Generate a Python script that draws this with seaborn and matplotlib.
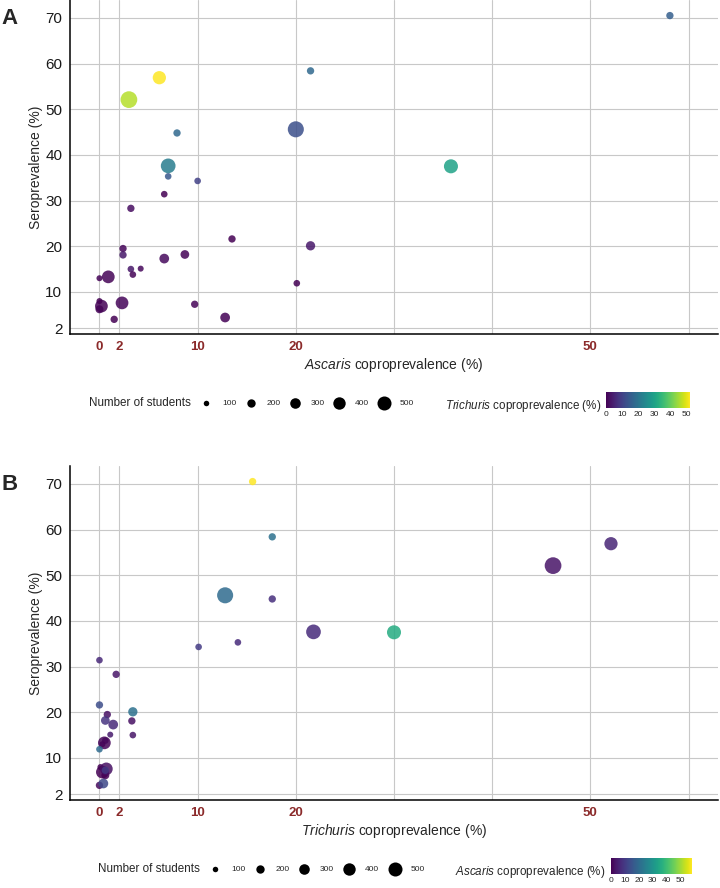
import numpy as np
import pandas as pd
import matplotlib
matplotlib.use("Agg")
import matplotlib.pyplot as plt
import seaborn as sns
from matplotlib.colors import Normalize
from matplotlib.cm import ScalarMappable

# one row per school
ascaris = [58.1, 21.5, 6.1, 3.0, 20.0, 7.9, 35.8, 7.0, 7.0, 10.0, 6.6, 3.2, 13.5, 21.5, 2.4, 2.4,
           6.6, 8.7, 3.2, 4.2, 3.4, 0.0, 0.9, 20.1, 0.0, 0.2, 0.0, 2.3, 9.7, 1.5, 12.8]
trichuris = [15.6, 17.6, 52.1, 46.2, 12.8, 17.6, 30.0, 21.8, 14.1, 10.1, 0.0, 1.7, 0.0, 3.4, 0.8, 3.3,
             1.4, 0.6, 3.4, 1.1, 0.6, 0.3, 0.5, 0.0, 0.1, 0.3, 0.6, 0.7, 0.6, 0.0, 0.4]
seroprev = [70.5, 58.4, 56.9, 52.1, 45.6, 44.8, 37.5, 37.6, 35.3, 34.3, 31.4, 28.3, 21.6, 20.1, 19.5, 18.1,
            17.3, 18.2, 15.0, 15.1, 13.8, 13.0, 13.3, 11.9, 8.0, 6.9, 6.2, 7.6, 7.3, 4.0, 4.4]
n_students = [160, 160, 450, 690, 640, 160, 500, 545, 135, 135, 135, 160, 160, 240, 160, 160,
              260, 215, 135, 115, 135, 115, 420, 135, 115, 420, 185, 420, 160, 160, 260]

legend_sizes = [100, 200, 300, 400, 500]
x_ticks = [0, 2, 10, 20, 30, 40, 50, 60]
x_ticklabels = ["0", "2", "10", "20", "", "", "50", ""]
y_ticks = [2, 10, 20, 30, 40, 50, 60, 70]
cbar_ticks = [0, 10, 20, 30, 40, 50]

W, H, DPI = 720, 888, 100
RED = "#8B2A2A"

sns.set_style("white")
plt.rcParams["font.family"] = ["Liberation Sans", "DejaVu Sans"]
plt.rcParams["mathtext.fontset"] = "custom"
plt.rcParams["mathtext.rm"] = "Liberation Sans"
plt.rcParams["mathtext.it"] = "Liberation Sans:italic"


def dot_area(n):
    # ggplot-like: diameter grows with sqrt(n); returned as scatter area in pt^2
    d_px = -1.4 + 0.69 * np.sqrt(n)
    return (d_px * 72 / DPI) ** 2


def px_box(left, top, right, bottom):
    return [left / W, 1 - bottom / H, (right - left) / W, (bottom - top) / H]


df = pd.DataFrame({"ascaris": ascaris, "trichuris": trichuris,
                   "sero": seroprev, "n": n_students})
size_map = {n: dot_area(n) for n in sorted(set(n_students))}

fig = plt.figure(figsize=(W / DPI, H / DPI), dpi=DPI)
ov = fig.add_axes([0, 0, 1, 1], zorder=5)
ov.set_xlim(0, W)
ov.set_ylim(H, 0)
ov.axis("off")
ov.patch.set_alpha(0)

panels = [
    dict(x="ascaris", hue="trichuris", top=0.5, tag="A", xname="Ascaris", cname="Trichuris",
         leg_left=89, dots=[206, 251, 295, 339, 384], cb=(606, 690), row=403),
    dict(x="trichuris", hue="ascaris", top=466.5, tag="B", xname="Trichuris", cname="Ascaris",
         leg_left=98, dots=[215, 260, 304, 349, 395], cb=(611, 692), row=869),
]

for p in panels:
    top = p["top"]
    ax = fig.add_axes(px_box(70, top, 718, top + 333))
    hmax = df[p["hue"]].max()
    sns.scatterplot(data=df, x=p["x"], y="sero", hue=p["hue"], size="n", sizes=size_map,
                    palette="viridis", hue_norm=(0, hmax), legend=False, alpha=0.85,
                    linewidth=0, ax=ax, zorder=3)
    ax.set_xlim(-3, 63)
    ax.set_ylim(0.9, 73.8)
    ax.set_xticks(x_ticks)
    ax.set_xticklabels(x_ticklabels, color=RED, fontweight="bold", fontsize=9.5)
    ax.set_yticks(y_ticks)
    ax.set_yticklabels([str(v) for v in y_ticks], fontsize=11, color="#1a1a1a")
    ax.grid(True, color="#c8c8c8", lw=0.8)
    ax.set_axisbelow(True)
    for s in ["top", "right"]:
        ax.spines[s].set_visible(False)
    for s in ["left", "bottom"]:
        ax.spines[s].set_color("black")
        ax.spines[s].set_linewidth(1.1)
    ax.tick_params(axis="both", length=3, width=0.8, color="#333333", pad=2.5)
    ax.set_ylabel("Seroprevalence (%)", fontsize=10, labelpad=2)
    ax.set_xlabel("$\\it{" + p["xname"] + "}$ coproprevalence (%)", fontsize=10, labelpad=2)

    # panel tag
    ov.text(10, top + 18, p["tag"], fontsize=16, fontweight="bold", ha="center", va="center")

    # size legend
    y = p["row"]
    ov.text(p["leg_left"], y, "Number of students", fontsize=8.4, ha="left", va="center")
    for n, x in zip(legend_sizes, p["dots"]):
        ov.scatter([x], [y], s=dot_area(n), color="black", linewidth=0)
        ov.text(x + 16, y, str(n), fontsize=6, ha="left", va="center")

    # colour bar
    c0, c1 = p["cb"]
    ov.text(c0 - 5, y + 3, "$\\it{" + p["cname"] + "}$ coproprevalence (%)", fontsize=8.4,
            ha="right", va="center")
    cax = fig.add_axes(px_box(c0, y - 11, c1, y + 5))
    sm = ScalarMappable(norm=Normalize(0, hmax), cmap="viridis")
    cb = fig.colorbar(sm, cax=cax, orientation="horizontal", ticks=cbar_ticks)
    cb.outline.set_visible(False)
    cb.ax.tick_params(labelsize=6, color="white", direction="in", length=3, width=0.6, pad=2)
    cb.ax.tick_params(top=True)

fig.savefig("out.png", dpi=DPI)
